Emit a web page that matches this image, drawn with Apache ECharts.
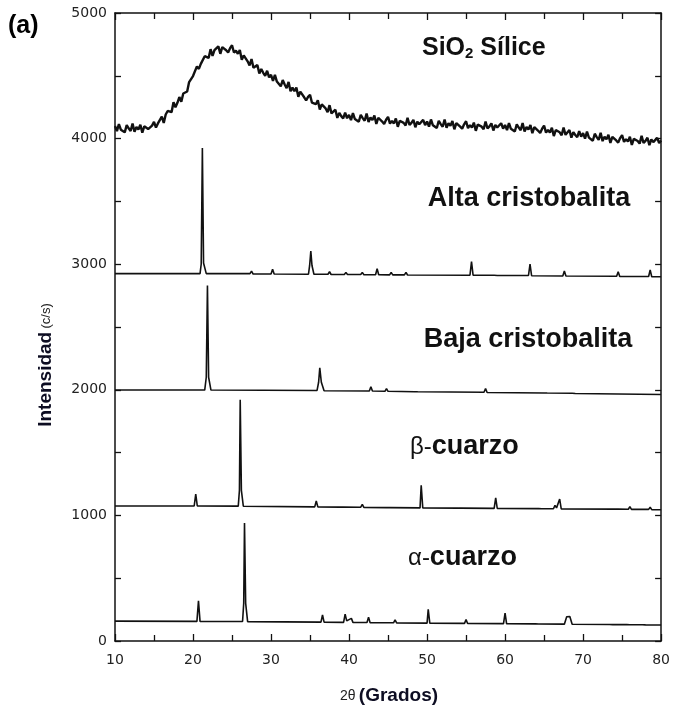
<!DOCTYPE html>
<html><head><meta charset="utf-8">
<script src="https://cdn.jsdelivr.net/npm/echarts@6/dist/echarts.min.js"></script>
<style>html,body{margin:0;padding:0;background:#fff}#c{width:673px;height:708px}</style>
</head><body><div id="c"></div>
<script>
// ---- data ----
const xTicks = [10, 20, 30, 40, 50, 60, 70, 80];
const yTicks = [0, 1000, 2000, 3000, 4000, 5000];
const silicaStart = 10, silicaStep = 0.25;
const silica = [
4100,4060,4116,4071, 4086,4050,4108,4082, 4061,4119,4054,4092, 4072,4111,4047,4098,
4107,4076,4063,4103, 4133,4088,4121,4113, 4175,4125,4192,4220, 4215,4210,4290,4250,
4285,4331,4293,4359, 4364,4375,4450,4438, 4498,4488,4575,4555, 4595,4580,4656,4647,
4642,4712,4658,4704, 4692,4735,4675,4728, 4737,4703,4686,4720, 4743,4685,4701,4675,
4705,4628,4662,4656, 4615,4582,4633,4564, 4570,4586,4518,4554, 4524,4500,4540,4488,
4508,4459,4507,4454, 4460,4416,4466,4431, 4402,4451,4377,4406, 4377,4406,4333,4374,
4372,4329,4304,4332, 4348,4286,4301,4274, 4305,4231,4272,4274, 4240,4211,4266,4201,
4210,4230,4165,4205, 4179,4161,4207,4162, 4188,4147,4203,4156, 4170,4134,4190,4163,
4142,4199,4133,4168, 4147,4184,4117,4166, 4172,4136,4117,4150, 4173,4119,4141,4121,
4160,4094,4142,4151, 4125,4104,4166,4108, 4125,4150,4090,4135, 4114,4100,4149,4107,
4136,4095,4152,4106, 4120,4084,4142,4115, 4094,4152,4086,4122, 4102,4140,4074,4124,
4130,4095,4078,4114, 4138,4084,4107,4088, 4127,4062,4111,4120, 4095,4074,4136,4080,
4097,4122,4064,4109, 4088,4073,4122,4079, 4108,4068,4124,4078, 4093,4057,4114,4088,
4067,4124,4057,4093, 4072,4109,4043,4091, 4097,4062,4044,4079, 4103,4048,4069,4049,
4087,4020,4068,4077, 4050,4027,4088,4030, 4045,4068,4008,4052, 4029,4012,4060,4016,
4043,4000,4055,4008, 4020,3983,4039,4012, 3990,4046,3980,4015, 3994,4031,3965,4014,
4020,3985,3968,4004, 4028,3974,3995,3976, 4015,3949,3998,4007, 3981,3960,4022,3965,
3982,4007,3948,3993, 3972,3957,4006,3964, 3985
];
const altaCristobalita = [
[10,2925],[20.9,2925],[21.05,3000],[21.2,3925],[21.35,3010],[21.7,2925],[27.3,2925],[27.5,2945],[27.7,2922],
[30.0,2922],[30.2,2960],[30.4,2922],[34.8,2920],[34.95,2990],[35.1,3105],[35.25,2990],[35.5,2920],
[37.3,2920],[37.5,2940],[37.7,2918],[39.4,2918],[39.6,2935],[39.8,2918],[41.5,2918],[41.7,2935],[41.9,2916],
[43.4,2916],[43.6,2965],[43.8,2916],[45.2,2915],[45.4,2935],[45.6,2915],[47.1,2915],[47.3,2935],[47.5,2914],
[55.5,2912],[55.7,3020],[55.9,2912],[58.6,2912],[58.8,2925],[59.0,2910],[63.0,2910],[63.2,3000],[63.4,2908],
[67.4,2906],[67.6,2945],[67.8,2906],[74.3,2904],[74.5,2940],[74.7,2902],[78.4,2902],[78.6,2955],[78.8,2900],[80,2900]
];
const bajaCristobalita = [
[10,1998],[21.5,1998],[21.7,2100],[21.85,2830],[22.0,2100],[22.3,1998],[35.9,1995],[36.1,2060],[36.25,2175],
[36.45,2060],[36.8,1993],[42.6,1990],[42.8,2025],[43.0,1990],[44.6,1988],[44.8,2010],[45.0,1988],
[48.4,1985],[48.6,1998],[48.8,1984],[57.3,1980],[57.5,2010],[57.7,1978],[65.0,1975],[65.2,1988],[65.4,1974],
[68.6,1972],[68.8,1985],[69.0,1970],[80,1962]
];
const betaCuarzo = [
[10,1075],[20.15,1075],[20.35,1170],[20.55,1075],[25.8,1074],[25.95,1200],[26.05,1920],[26.2,1200],[26.45,1073],
[35.6,1068],[35.8,1115],[36.0,1068],[38.8,1066],[39.0,1080],[39.2,1066],[41.5,1065],[41.7,1088],[41.9,1064],
[44.8,1062],[45.0,1075],[45.2,1062],[49.1,1060],[49.25,1240],[49.45,1060],[54.0,1058],[54.1,1068],[54.3,1058],
[58.6,1056],[58.8,1140],[59.0,1055],[64.3,1054],[64.5,1065],[64.7,1053],[66.2,1053],[66.4,1080],[66.6,1060],
[67.0,1130],[67.2,1052],[74.1,1050],[74.3,1065],[74.5,1050],[75.8,1049],[76.0,1070],[76.2,1048],
[78.4,1048],[78.6,1065],[78.8,1046],[80,1045]
];
const alfaCuarzo = [
[10,158],[20.5,156],[20.7,320],[20.9,156],[26.35,155],[26.5,300],[26.6,940],[26.75,300],[27.0,154],
[36.4,150],[36.6,207],[36.8,150],[39.3,148],[39.5,214],[39.7,160],[40.3,180],[40.5,148],[42.3,147],[42.5,190],[42.7,146],
[45.7,145],[45.9,168],[46.1,144],[50.0,142],[50.15,253],[50.35,142],[54.8,140],[55.0,170],[55.2,139],
[59.8,138],[60.0,222],[60.2,137],[63.9,136],[64.1,148],[64.3,135],[67.6,134],[67.9,193],[68.1,180],[68.3,195],[68.6,133],
[73.4,131],[73.6,145],[73.8,130],[75.6,130],[75.8,145],[76.0,129],[77.6,129],[77.8,138],[78.0,128],[80,127]
];
const traceLabels = ['SiO2 Sílice', 'Alta cristobalita', 'Baja cristobalita', 'β-cuarzo', 'α-cuarzo'];

// ---- chart ----
const silicaData = silica.map((v, i) => [silicaStart + i * silicaStep, v]);
const chart = echarts.init(document.getElementById('c'));
const INK = '#111';
const FONT = '"Liberation Sans", Arial, sans-serif';
const TICKFONT = '"DejaVu Sans", sans-serif';
function xAx(pos, lab) {
  return {
    type: 'value', min: xTicks[0], max: xTicks[xTicks.length - 1], interval: 10, position: pos,
    axisLine: { show: true, onZero: false, lineStyle: { color: INK, width: 1.5 } },
    axisTick: { show: true, inside: true, length: 7, lineStyle: { color: INK, width: 1.3 } },
    minorTick: { show: true, splitNumber: 2, length: 6, lineStyle: { color: INK, width: 1.3 } },
    axisLabel: { show: lab, margin: 12, color: '#222', fontSize: 14, fontFamily: TICKFONT, formatter: v => String(v) },
    splitLine: { show: false }
  };
}
function yAx(pos, lab) {
  return {
    type: 'value', min: yTicks[0], max: yTicks[yTicks.length - 1], interval: 1000, position: pos,
    axisLine: { show: true, onZero: false, lineStyle: { color: INK, width: 1.5 } },
    axisTick: { show: true, inside: true, length: 6, lineStyle: { color: INK, width: 1.3 } },
    minorTick: { show: true, splitNumber: 2, length: 6, lineStyle: { color: INK, width: 1.3 } },
    axisLabel: { show: lab, margin: 8, color: '#222', fontSize: 14, fontFamily: TICKFONT, formatter: v => String(v) },
    splitLine: { show: false }
  };
}
function line(name, data, w) {
  return { name, type: 'line', data, showSymbol: false, symbol: 'none', silent: true,
    lineStyle: { color: INK, width: w }, xAxisIndex: 0, yAxisIndex: 0, animation: false };
}
const big = 'bold 27px ' + FONT;
chart.setOption({
  animation: false,
  grid: { left: 115, right: 10, top: 13, bottom: 67 },
  xAxis: [xAx('bottom', true), xAx('top', false)],
  yAxis: [yAx('left', true), yAx('right', false)],
  series: [
    line(traceLabels[0], silicaData, 2.4),
    line(traceLabels[1], altaCristobalita, 1.6),
    line(traceLabels[2], bajaCristobalita, 1.6),
    line(traceLabels[3], betaCuarzo, 1.6),
    line(traceLabels[4], alfaCuarzo, 1.6)
  ],
  graphic: [
    { type: 'text', left: 8, top: 14, style: { text: '(a)', font: 'bold 25px ' + FONT, fill: '#000' } },
    { type: 'text', x: 422, y: 48, style: { text: '{b|SiO}{s|2}{b| Sílice}', textVerticalAlign: 'middle', fill: '#111',
      rich: { b: { font: 'bold 25px ' + FONT, fill: '#111' }, s: { font: 'bold 15px ' + FONT, fill: '#111', padding: [12, 0, 0, 0] } } } },
    { type: 'text', x: 529, y: 199, style: { text: traceLabels[1], font: big, fill: '#111', textAlign: 'center', textVerticalAlign: 'middle' } },
    { type: 'text', x: 528, y: 340, style: { text: traceLabels[2], font: big, fill: '#111', textAlign: 'center', textVerticalAlign: 'middle' } },
    { type: 'text', x: 410, y: 447, style: { text: '{g|β-}{b|cuarzo}', textVerticalAlign: 'middle',
      rich: { g: { font: '24px ' + FONT, fill: '#111' }, b: { font: big, fill: '#111' } } } },
    { type: 'text', x: 408, y: 558, style: { text: '{g|α-}{b|cuarzo}', textVerticalAlign: 'middle',
      rich: { g: { font: '24px ' + FONT, fill: '#111' }, b: { font: big, fill: '#111' } } } },
    { type: 'text', x: 46, y: 365, rotation: Math.PI / 2, style: { text: '{b|Intensidad} {s|(c/s)}', textAlign: 'center', textVerticalAlign: 'middle',
      rich: { b: { font: 'bold 19px ' + FONT, fill: '#0d0d22' }, s: { font: '13px ' + FONT, fill: '#222' } } } },
    { type: 'text', x: 389, y: 696, style: { text: '{s|2θ} {b|(Grados)}', textAlign: 'center', textVerticalAlign: 'middle',
      rich: { s: { font: '14px ' + FONT, fill: '#222' }, b: { font: 'bold 19px ' + FONT, fill: '#0d0d22' } } } }
  ]
});
</script></body></html>
